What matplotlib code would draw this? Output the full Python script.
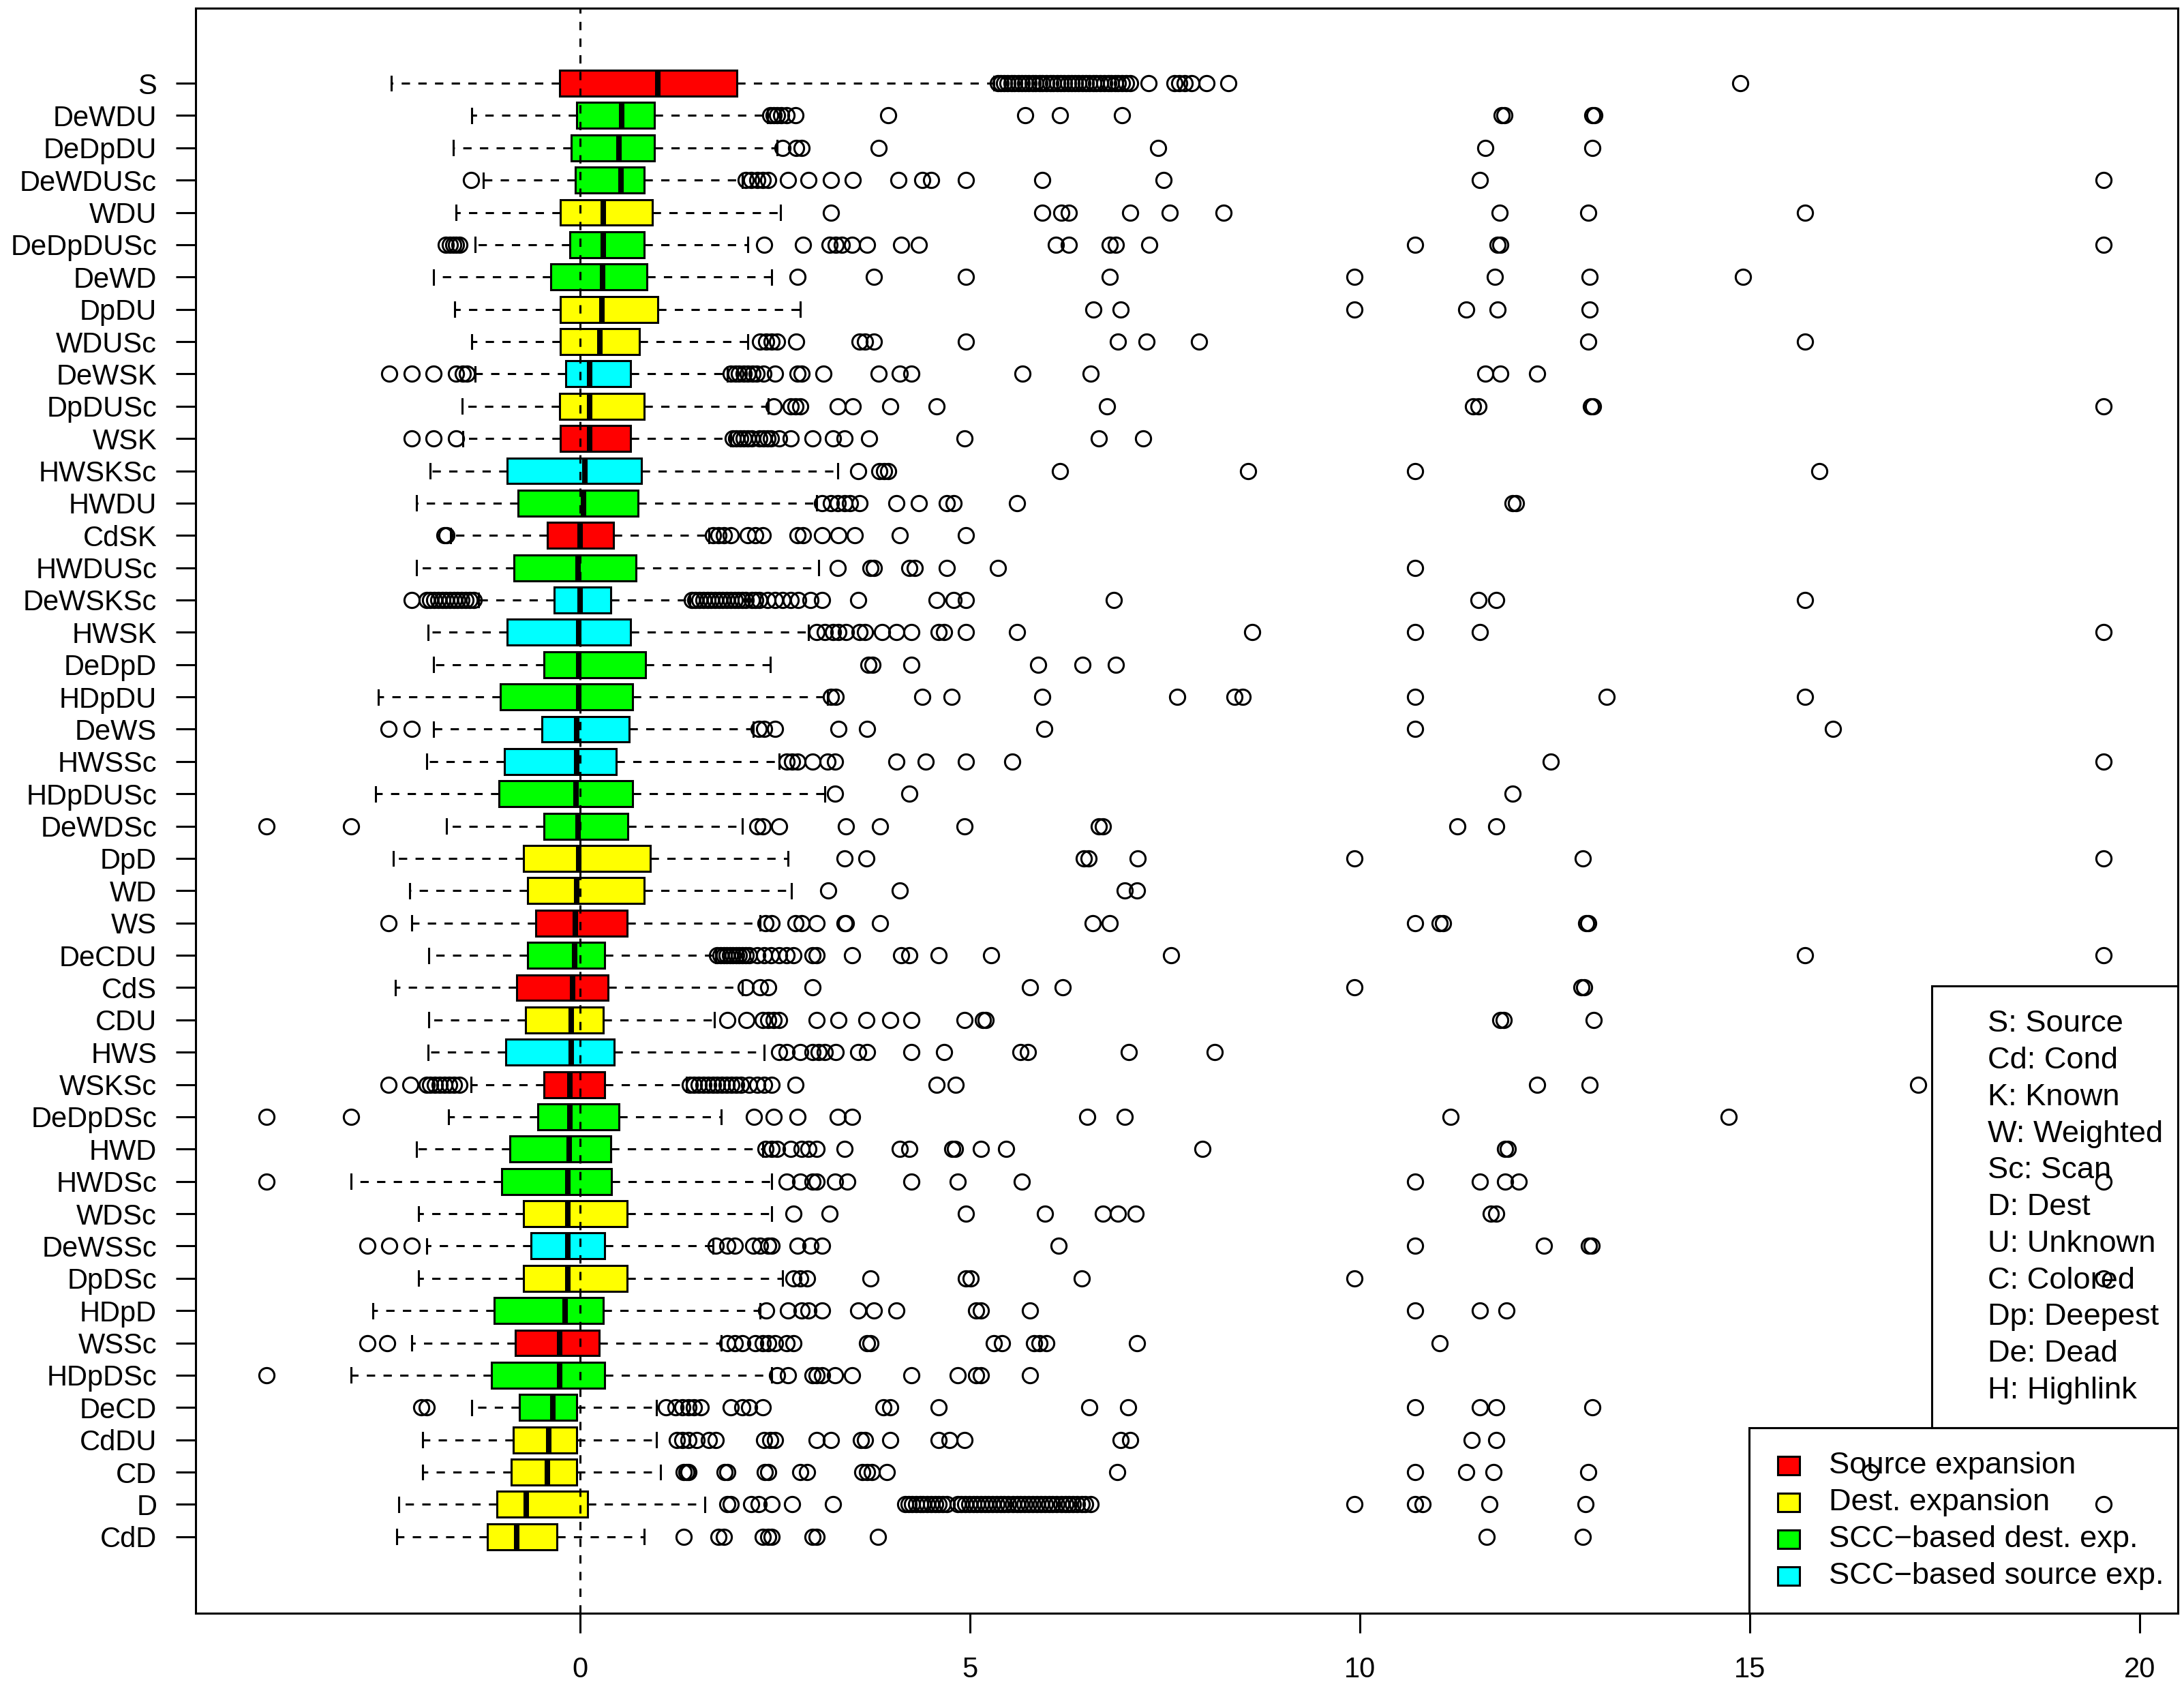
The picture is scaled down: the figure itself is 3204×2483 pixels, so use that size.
import numpy as np
import matplotlib
matplotlib.use("Agg")
import matplotlib.pyplot as plt
from matplotlib.patches import Rectangle

plt.rcParams['font.family'] = ['Liberation Sans', 'DejaVu Sans']

# rows from top to bottom
labels = ["S", "DeWDU", "DeDpDU", "DeWDUSc", "WDU", "DeDpDUSc", "DeWD", "DpDU",
          "WDUSc", "DeWSK", "DpDUSc", "WSK", "HWSKSc", "HWDU", "CdSK", "HWDUSc",
          "DeWSKSc", "HWSK", "DeDpD", "HDpDU", "DeWS", "HWSSc", "HDpDUSc", "DeWDSc",
          "DpD", "WD", "WS", "DeCDU", "CdS", "CDU", "HWS", "WSKSc", "DeDpDSc", "HWD",
          "HWDSc", "WDSc", "DeWSSc", "DpDSc", "HDpD", "WSSc", "HDpDSc", "DeCD",
          "CdDU", "CD", "D", "CdD"]

# s = source exp., d = dest. exp., g = SCC-based dest., c = SCC-based source
groups = ["s", "g", "g", "g", "d", "g", "g", "d",
          "d", "c", "d", "s", "c", "g", "s", "g",
          "c", "c", "g", "g", "c", "c", "g", "g",
          "d", "d", "s", "g", "s", "d", "c", "s", "g", "g",
          "g", "d", "c", "d", "g", "s", "g", "g",
          "d", "d", "d", "d"]

whislo = [-2.42, -1.39, -1.63, -1.24, -1.59, -1.35, -1.88, -1.61,
          -1.39, -1.35, -1.51, -1.50, -1.92, -2.10, -1.66, -2.10,
          -1.30, -1.95, -1.88, -2.59, -1.88, -1.97, -2.62, -1.71,
          -2.40, -2.19, -2.16, -1.94, -2.37, -1.94, -1.95, -1.40, -1.69, -2.10,
          -2.94, -2.07, -1.97, -2.07, -2.66, -2.16, -2.94, -1.39,
          -2.02, -2.02, -2.33, -2.35]
q1 = [-0.26, -0.04, -0.11, -0.06, -0.25, -0.13, -0.38, -0.25,
      -0.25, -0.18, -0.26, -0.25, -0.94, -0.80, -0.42, -0.85,
      -0.33, -0.94, -0.46, -1.02, -0.49, -0.97, -1.04, -0.46,
      -0.73, -0.67, -0.57, -0.67, -0.81, -0.70, -0.95, -0.46, -0.54, -0.90,
      -1.01, -0.73, -0.63, -0.73, -1.10, -0.83, -1.14, -0.78,
      -0.86, -0.88, -1.07, -1.19]
med = [1.00, 0.53, 0.50, 0.52, 0.30, 0.30, 0.29, 0.28,
       0.25, 0.12, 0.12, 0.12, 0.06, 0.04, 0.00, -0.03,
       0.00, -0.02, -0.02, -0.02, -0.04, -0.04, -0.05, -0.03,
       -0.02, -0.04, -0.06, -0.07, -0.10, -0.11, -0.11, -0.13, -0.13, -0.14,
       -0.16, -0.16, -0.16, -0.16, -0.19, -0.26, -0.26, -0.35,
       -0.40, -0.42, -0.69, -0.81]
q3 = [2.01, 0.95, 0.95, 0.82, 0.93, 0.82, 0.86, 1.00,
      0.76, 0.65, 0.82, 0.65, 0.79, 0.74, 0.43, 0.72,
      0.39, 0.65, 0.84, 0.67, 0.63, 0.46, 0.67, 0.61,
      0.90, 0.82, 0.60, 0.31, 0.36, 0.30, 0.44, 0.31, 0.50, 0.39,
      0.40, 0.60, 0.31, 0.60, 0.30, 0.24, 0.31, -0.04,
      -0.04, -0.04, 0.10, -0.30]
whishi = [5.31, 2.40, 2.53, 2.08, 2.57, 2.15, 2.46, 2.82,
          2.15, 1.89, 2.41, 1.93, 3.30, 3.03, 1.65, 3.06,
          1.41, 2.93, 2.44, 3.17, 2.22, 2.55, 3.14, 2.08,
          2.67, 2.71, 2.31, 1.74, 2.08, 1.72, 2.36, 1.36, 1.81, 2.34,
          2.46, 2.46, 1.70, 2.60, 2.31, 1.81, 2.46, 0.98,
          0.98, 1.03, 1.60, 0.82]

fliers = [
    [5.36, 5.39, 5.44, 5.48, 5.53, 5.57, 5.62, 5.66, 5.71, 5.75, 5.80, 5.84, 5.89, 5.93,
     5.98, 6.03, 6.07, 6.12, 6.16, 6.21, 6.26, 6.30, 6.35, 6.39, 6.44, 6.49, 6.53, 6.58,
     6.62, 6.67, 6.72, 6.77, 6.81, 6.86, 6.90, 6.95, 7.00, 7.05, 7.29, 7.62, 7.68, 7.75,
     7.84, 8.03, 8.31, 14.88],
    [2.44, 2.48, 2.53, 2.58, 2.65, 2.76, 3.95, 5.71, 6.15, 6.95, 11.82, 11.85, 12.98, 13.01],
    [2.60, 2.77, 2.84, 3.83, 7.41, 11.61, 12.98],
    [-1.40, 2.12, 2.19, 2.27, 2.34, 2.41, 2.67, 2.93, 3.22, 3.50, 4.08, 4.39, 4.50, 4.95,
     5.93, 7.48, 11.54, 19.54],
    [3.22, 5.93, 6.17, 6.27, 7.05, 7.56, 8.25, 11.79, 12.93, 15.71],
    [-1.72, -1.67, -1.63, -1.59, -1.55, 2.36, 2.86, 3.20, 3.28, 3.36, 3.49, 3.68, 4.12,
     4.34, 6.10, 6.27, 6.79, 6.87, 7.30, 10.71, 11.77, 11.80, 19.54],
    [2.79, 3.77, 4.95, 6.79, 9.93, 11.73, 12.95, 14.91],
    [6.58, 6.93, 9.93, 11.36, 11.77, 12.95],
    [2.31, 2.39, 2.46, 2.53, 2.77, 3.58, 3.65, 3.77, 4.95, 6.90, 7.26, 7.94, 12.93, 15.71],
    [-2.45, -2.16, -1.88, -1.59, -1.50, -1.45, 1.93, 1.99, 2.04, 2.10, 2.15, 2.21, 2.26,
     2.35, 2.50, 2.79, 2.84, 3.12, 3.83, 4.10, 4.25, 5.67, 6.55, 11.61, 11.80, 12.27],
    [2.48, 2.70, 2.76, 2.82, 3.30, 3.50, 3.98, 4.57, 6.76, 11.45, 11.52, 12.96, 12.99, 19.54],
    [-2.16, -1.88, -1.59, 1.96, 2.00, 2.05, 2.10, 2.15, 2.20, 2.30, 2.35, 2.40, 2.45, 2.55,
     2.70, 2.98, 3.24, 3.39, 3.71, 4.93, 6.65, 7.22],
    [3.57, 3.84, 3.90, 3.95, 6.15, 8.57, 10.71, 15.89],
    [3.10, 3.22, 3.30, 3.39, 3.46, 3.58, 4.06, 4.34, 4.70, 4.79, 5.60, 11.96, 12.00],
    [-1.74, -1.71, 1.70, 1.77, 1.84, 1.93, 2.15, 2.25, 2.34, 2.79, 2.86, 3.10, 3.31, 3.52,
     4.10, 4.95],
    [3.30, 3.72, 3.77, 4.22, 4.29, 4.70, 5.36, 10.71],
    [-2.16, -1.97, -1.92, -1.87, -1.82, -1.77, -1.72, -1.67, -1.62, -1.57, -1.52, -1.47,
     -1.42, -1.36, 1.43, 1.48, 1.53, 1.58, 1.63, 1.68, 1.73, 1.78, 1.83, 1.88, 1.93, 1.98,
     2.03, 2.08, 2.12, 2.20, 2.25, 2.30, 2.40, 2.50, 2.60, 2.70, 2.80, 2.95, 3.10, 3.57,
     4.57, 4.79, 4.95, 6.84, 11.52, 11.75, 15.71],
    [3.03, 3.14, 3.24, 3.31, 3.41, 3.58, 3.65, 3.87, 4.06, 4.25, 4.60, 4.67, 4.95, 5.60,
     8.62, 10.71, 11.54, 19.54],
    [3.70, 3.75, 4.25, 5.87, 6.44, 6.87],
    [3.22, 3.28, 4.39, 4.76, 5.93, 7.66, 8.39, 8.50, 10.71, 13.16, 15.71],
    [-2.46, -2.16, 2.29, 2.36, 2.50, 3.31, 3.68, 5.95, 10.71, 16.07],
    [2.65, 2.72, 2.79, 2.98, 3.17, 3.27, 4.06, 4.43, 4.95, 5.54, 12.45, 19.54],
    [3.27, 4.22, 11.96],
    [-4.02, -2.94, 2.27, 2.34, 2.55, 3.41, 3.85, 4.93, 6.65, 6.70, 11.25, 11.75],
    [3.39, 3.67, 6.46, 6.52, 7.15, 9.93, 12.86, 19.54],
    [3.18, 4.10, 6.98, 7.14],
    [-2.46, 2.38, 2.46, 2.76, 2.84, 3.03, 3.39, 3.41, 3.85, 6.57, 6.79, 10.71, 11.02, 11.07,
     12.90, 12.93],
    [1.76, 1.80, 1.84, 1.88, 1.92, 1.96, 2.00, 2.04, 2.08, 2.12, 2.17, 2.27, 2.36, 2.45,
     2.55, 2.65, 2.74, 2.98, 3.03, 3.49, 4.12, 4.22, 4.60, 5.27, 7.58, 15.71, 19.54],
    [2.12, 2.31, 2.41, 2.98, 5.77, 6.19, 9.93, 12.84, 12.88],
    [1.89, 2.13, 2.34, 2.41, 2.48, 2.55, 3.03, 3.31, 3.67, 3.98, 4.25, 4.93, 5.17, 5.20,
     11.80, 11.84, 13.00],
    [2.55, 2.65, 2.82, 2.98, 3.06, 3.14, 3.28, 3.57, 3.68, 4.25, 4.67, 5.65, 5.74, 7.04, 8.14],
    [-2.46, -2.18, -1.97, -1.92, -1.86, -1.80, -1.74, -1.68, -1.62, -1.55, 1.41, 1.46,
     1.52, 1.58, 1.64, 1.70, 1.76, 1.82, 1.88, 1.94, 2.00, 2.06, 2.17, 2.27, 2.36, 2.46,
     2.76, 4.57, 4.82, 12.27, 12.95, 17.16],
    [-4.02, -2.94, 2.23, 2.48, 2.79, 3.30, 3.49, 6.50, 6.98, 11.16, 14.73],
    [2.38, 2.46, 2.53, 2.70, 2.84, 2.93, 3.03, 3.39, 4.10, 4.22, 4.77, 4.81, 5.14, 5.46,
     7.98, 11.86, 11.90],
    [-4.02, 2.65, 2.82, 2.98, 3.03, 3.27, 3.43, 4.25, 4.84, 5.66, 10.71, 11.54, 11.86,
     12.04, 19.54],
    [2.74, 3.20, 4.95, 5.96, 6.70, 6.90, 7.12, 11.68, 11.75],
    [-2.73, -2.45, -2.16, 1.74, 1.89, 1.98, 2.22, 2.31, 2.41, 2.46, 2.79, 2.95, 3.10, 6.14,
     10.71, 12.36, 12.94, 12.97],
    [2.74, 2.82, 2.91, 3.72, 4.95, 5.01, 6.43, 9.93, 19.54],
    [2.39, 2.67, 2.84, 2.93, 3.10, 3.57, 3.77, 4.06, 5.08, 5.14, 5.77, 10.71, 11.54, 11.88],
    [-2.73, -2.47, 1.89, 1.98, 2.08, 2.25, 2.34, 2.41, 2.50, 2.65, 2.74, 3.68, 3.72, 5.31,
     5.41, 5.82, 5.89, 5.98, 7.14, 11.02],
    [-4.02, 2.53, 2.67, 2.98, 3.03, 3.10, 3.27, 3.49, 4.25, 4.84, 5.08, 5.14, 5.77],
    [-2.04, -1.97, 1.10, 1.22, 1.31, 1.39, 1.46, 1.55, 1.93, 2.08, 2.17, 2.34, 3.89, 3.98,
     4.60, 6.53, 7.03, 10.71, 11.54, 11.75, 12.98],
    [1.24, 1.31, 1.39, 1.49, 1.65, 1.74, 2.36, 2.44, 2.50, 3.03, 3.22, 3.60, 3.65, 3.98,
     4.60, 4.74, 4.93, 6.93, 7.05, 11.43, 11.75],
    [1.33, 1.36, 1.39, 1.85, 1.89, 2.37, 2.41, 2.82, 2.91, 3.62, 3.68, 3.74, 3.93, 6.89,
     10.71, 11.36, 11.71, 12.93, 16.55],
    [1.89, 1.93, 2.19, 2.29, 2.46, 2.72, 3.24, 4.17, 4.21, 4.26, 4.31, 4.36, 4.40, 4.45,
     4.50, 4.55, 4.60, 4.65, 4.70, 4.84, 4.89, 4.94, 4.99, 5.04, 5.09, 5.14, 5.19, 5.24,
     5.29, 5.34, 5.39, 5.44, 5.49, 5.55, 5.60, 5.65, 5.70, 5.75, 5.80, 5.86, 5.91, 5.96,
     6.01, 6.06, 6.11, 6.17, 6.22, 6.27, 6.32, 6.37, 6.43, 6.48, 6.55, 9.93, 10.71, 10.80,
     11.66, 12.89, 19.54],
    [1.33, 1.77, 1.84, 2.34, 2.41, 2.46, 2.98, 3.03, 3.82, 11.63, 12.86],
]

group_colors = {"s": "#FF0000", "d": "#FFFF00", "g": "#00FF00", "c": "#00FFFF"}
legend_labels = ["Source expansion", "Dest. expansion",
                 "SCC\u2212based dest. exp.", "SCC\u2212based source exp."]
legend_keys = ["s", "d", "g", "c"]
abbrev = ["S: Source", "Cd: Cond", "K: Known", "W: Weighted", "Sc: Scan", "D: Dest",
          "U: Unknown", "C: Colored", "Dp: Deepest", "De: Dead", "H: Highlink"]

n = len(labels)
pos = np.arange(n, 0, -1)
stats = []
for i in range(n):
    stats.append(dict(whislo=whislo[i], q1=q1[i], med=med[i], q3=q3[i],
                      whishi=whishi[i], fliers=fliers[i]))

fig = plt.figure(figsize=(16.02, 12.415), dpi=200)
ax = fig.add_axes([0.0896, 0.0471, 0.9076, 0.9482])

lw = 1.1
bp = ax.bxp(stats, positions=pos, widths=0.8, capwidths=0.44,
            orientation='horizontal', patch_artist=True,
            boxprops=dict(linewidth=lw, edgecolor='black'),
            medianprops=dict(color='black', linewidth=2.9, solid_capstyle='butt'),
            whiskerprops=dict(color='black', linewidth=lw, linestyle=(0, (4, 4))),
            capprops=dict(color='black', linewidth=lw),
            flierprops=dict(marker='o', markerfacecolor='none', markeredgecolor='black',
                            markersize=8, markeredgewidth=lw))
for box, g in zip(bp['boxes'], groups):
    box.set_facecolor(group_colors[g])

ax.axvline(0, color='black', linewidth=lw, linestyle=(0, (4, 4)), zorder=5)

ax.set_xlim(-4.93, 20.49)
ax.set_ylim(-1.37, 48.33)
ax.set_xticks([0, 5, 10, 15, 20])
ax.set_yticks(pos)
ax.set_yticklabels(labels)
ax.tick_params(axis='both', direction='out', length=10.5, width=lw, labelsize=15)
ax.tick_params(axis='y', pad=10)
ax.tick_params(axis='x', pad=12)
for sp in ax.spines.values():
    sp.set_linewidth(lw)

# abbreviation box
ax.add_patch(Rectangle((0.876, 0.1155), 0.124, 0.2751, transform=ax.transAxes,
                       fill=False, edgecolor='black', linewidth=lw, zorder=6))
for i, t in enumerate(abbrev):
    ax.text(0.904, 0.367 - i * 0.02283, t, transform=ax.transAxes, fontsize=16.3,
            ha='left', va='center', zorder=6)

# colour legend
ax.add_patch(Rectangle((0.7837, 0.0), 0.2163, 0.1155, transform=ax.transAxes,
                       fill=False, edgecolor='black', linewidth=lw, zorder=6))
for i, (k, t) in enumerate(zip(legend_keys, legend_labels)):
    y = 0.092 - i * 0.0229
    ax.add_patch(Rectangle((0.798, y - 0.0058), 0.0113, 0.0116, transform=ax.transAxes,
                           facecolor=group_colors[k], edgecolor='black', linewidth=lw,
                           zorder=6))
    ax.text(0.824, y, t, transform=ax.transAxes, fontsize=16.3, ha='left', va='center',
            zorder=6)

fig.savefig("out.png", dpi=200)
